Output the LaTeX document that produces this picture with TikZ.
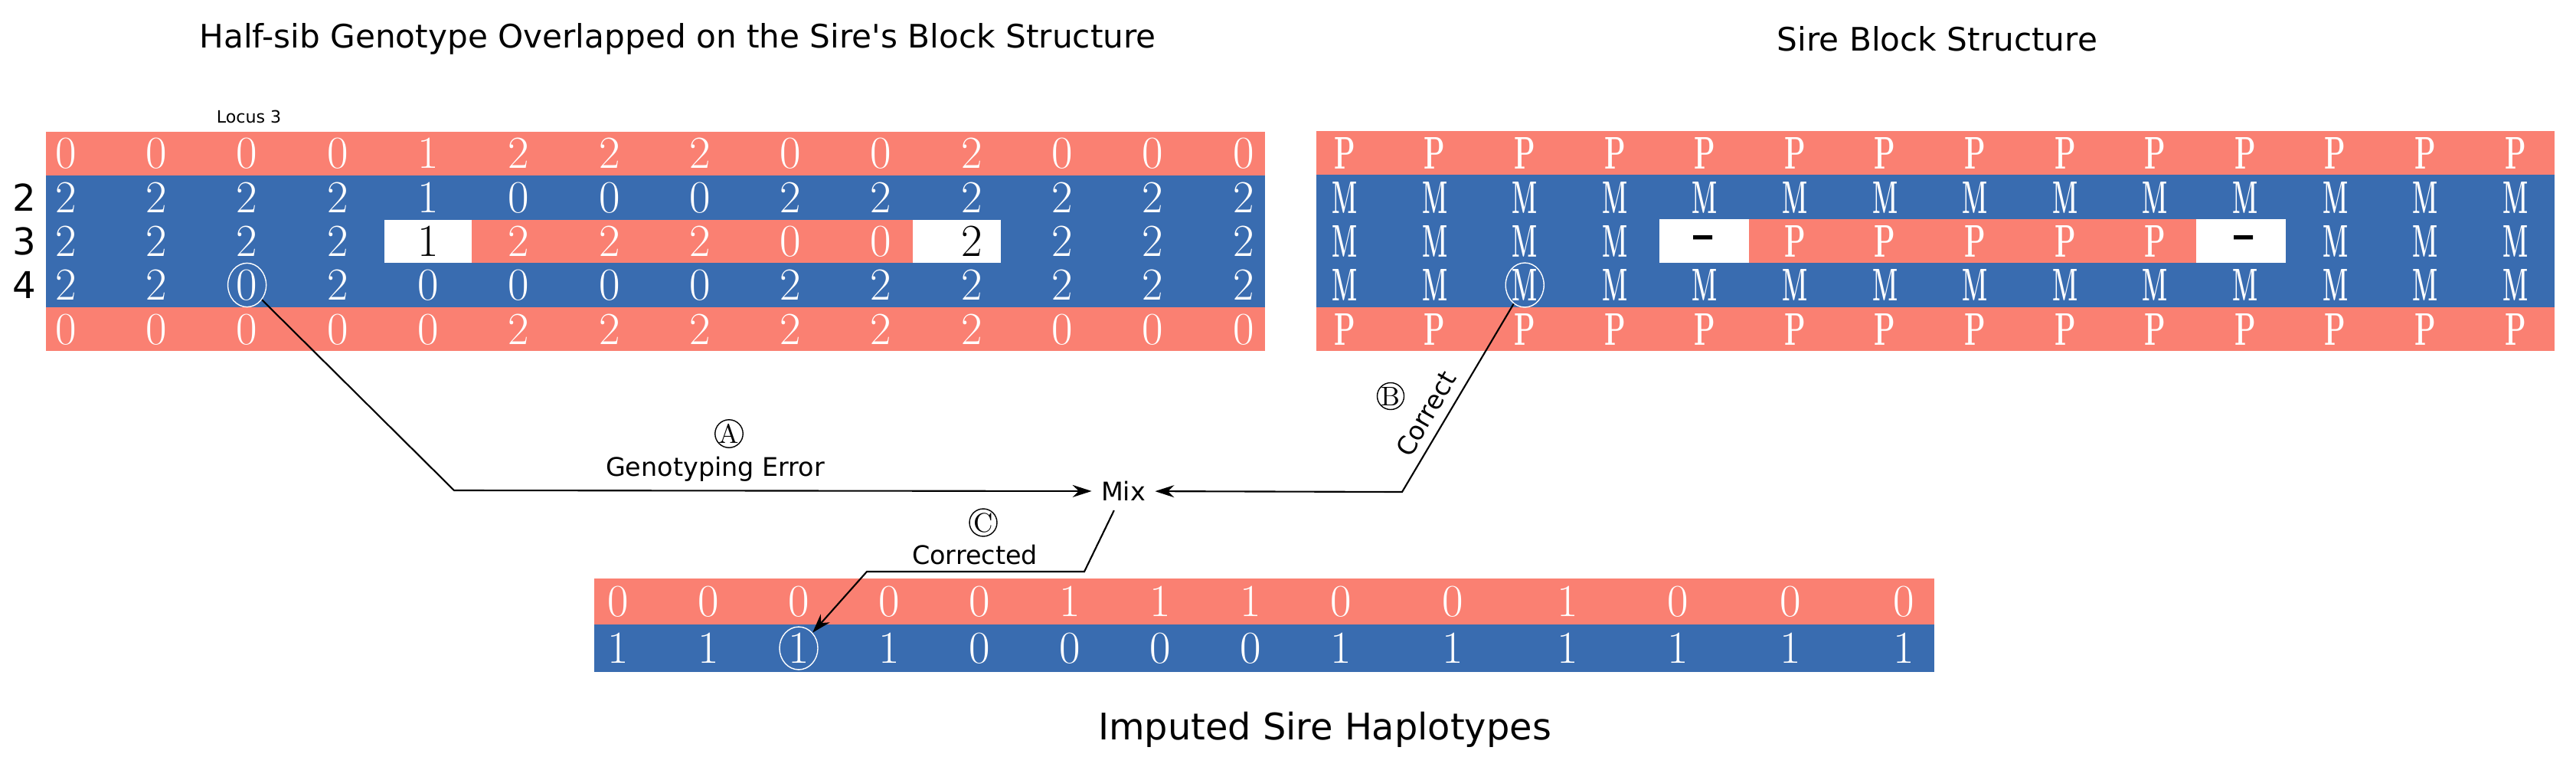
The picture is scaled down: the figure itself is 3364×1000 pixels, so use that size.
\documentclass[tikz,border=0pt]{standalone}
\usepackage{fontspec}
\setsansfont[Ligatures=TeXOff]{DejaVu Sans}
\usepackage{graphicx}
\usepackage{tikz}
\usetikzlibrary{arrows.meta,shapes.geometric}

\definecolor{patred}{RGB}{250,128,114}
\definecolor{matblue}{RGB}{57,108,176}

\newcommand{\Pchr}{\scalebox{0.6}[1]{\bfseries P}}
\newcommand{\Mchr}{\scalebox{0.52}[1]{\bfseries M}}
\newcommand{\Dchr}{\scalebox{1.4}[1]{\bfseries -}}

\tikzset{
  cell/.style={text=white, inner sep=0pt, font=\fontsize{17}{17}\selectfont},
  holecell/.style={cell, text=black},
  ringcell/.style={cell, draw=white, ellipse, minimum width=0.5cm, minimum height=0.55cm},
  heading/.style={anchor=base, font=\sffamily\fontsize{12}{14}\selectfont},
  lbl/.style={font=\sffamily\fontsize{9.5}{11}\selectfont},
  tag/.style={draw, circle, inner sep=0pt, minimum size=0.35cm, font=\fontsize{10}{10}\selectfont},
  flow/.style={line width=0.6pt},
  arrowed/.style={-{Stealth[length=2.5mm,width=1.6mm]}},
}

\begin{document}
\begin{tikzpicture}[x=0.01cm, y=-0.01cm]
  \useasboundingbox (0,0) rectangle (3364,1000);
  % Titles
  \node[heading] (gtitle) at (885,62) {Half-sib Genotype Overlapped on the Sire's Block Structure};
  \node[heading] (stitle) at (2530,67) {Sire Block Structure};
  \node[heading, font=\sffamily\fontsize{13.6}{15}\selectfont] (htitle) at (1730,965) {Imputed Sire Haplotypes};
  \node[anchor=base, font=\sffamily\fontsize{6.3}{7}\selectfont] (locus) at (325,160) {Locus 3};

  % Draw half-sib block
  \fill[patred] (60,172) rectangle (1652,458);
  \fill[matblue] (60,229) rectangle (1652,401);
  \fill[patred] (616,287) rectangle (1192,343);
  \fill[white] (502,287) rectangle (616,343);
  \fill[white] (1192,287) rectangle (1307,343);
  \foreach \v [count=\i from 0] in {0,0,0,0,1,2,2,2,0,0,2,0,0,0}
    \node[cell] (g1-\i) at ({86+118.3*\i},200) {\v};
  \foreach \v [count=\i from 0] in {2,2,2,2,1,0,0,0,2,2,2,2,2,2}
    \node[cell] (g2-\i) at ({86+118.3*\i},258) {\v};
  \foreach \v/\s [count=\i from 0] in {2/cell,2/cell,2/cell,2/cell,1/holecell,2/cell,2/cell,2/cell,0/cell,0/cell,2/holecell,2/cell,2/cell,2/cell}
    \node[\s] (g3-\i) at ({86+118.3*\i},315) {\v};
  \foreach \v/\s [count=\i from 0] in {2/cell,2/cell,0/ringcell,2/cell,0/cell,0/cell,0/cell,0/cell,2/cell,2/cell,2/cell,2/cell,2/cell,2/cell}
    \node[\s] (g4-\i) at ({86+118.3*\i},372) {\v};
  \foreach \v [count=\i from 0] in {0,0,0,0,0,2,2,2,2,2,2,0,0,0}
    \node[cell] (g5-\i) at ({86+118.3*\i},430) {\v};
  \foreach \r/\y in {2/258,3/315,4/372}
    \node[font=\sffamily\fontsize{13.7}{15}\selectfont] (row\r) at (32,\y) {\r};

  % Draw sire block
  \fill[patred] (1719,171) rectangle (3336,458);
  \fill[matblue] (1719,228) rectangle (3336,401);
  \fill[patred] (2284,286) rectangle (2868,343);
  \fill[white] (2167,286) rectangle (2284,343);
  \fill[white] (2868,286) rectangle (2985,343);
  \foreach \i in {0,...,13} {
    \node[cell] (s1-\i) at ({1756+117.6*\i},200) {\Pchr};
    \node[cell] (s2-\i) at ({1756+117.6*\i},258) {\Mchr};
    \node[cell] (s5-\i) at ({1756+117.6*\i},430) {\Pchr};
  }
  \foreach \v/\s [count=\i from 0] in {\Mchr/cell,\Mchr/cell,\Mchr/cell,\Mchr/cell,\Dchr/holecell,\Pchr/cell,\Pchr/cell,\Pchr/cell,\Pchr/cell,\Pchr/cell,\Dchr/holecell,\Mchr/cell,\Mchr/cell,\Mchr/cell}
    \node[\s] (s3-\i) at ({1756+117.6*\i},315) {\v};
  \foreach \s [count=\i from 0] in {cell,cell,ringcell,cell,cell,cell,cell,cell,cell,cell,cell,cell,cell,cell}
    \node[\s] (s4-\i) at ({1756+117.6*\i},372) {\Mchr};

  % Draw imputed haplotypes
  \fill[patred] (776,755) rectangle (2526,815);
  \fill[matblue] (776,815) rectangle (2526,877);
  \foreach \x/\v [count=\i from 0] in {807/0,925/0,1043/0,1161/0,1279/0,1397/1,1515/1,1633/1,1751/0,1897/0,2047/1,2191/0,2338/0,2486/0}
    \node[cell] (h1-\i) at (\x,785) {\v};
  \foreach \x/\v/\s [count=\i from 0] in {807/1/cell,925/1/cell,1043/1/ringcell,1161/1/cell,1279/0/cell,1397/0/cell,1515/0/cell,1633/0/cell,1751/1/cell,1897/1/cell,2047/1/cell,2191/1/cell,2338/1/cell,2486/1/cell}
    \node[\s] (h2-\i) at (\x,846) {\v};

  % Draw connectors
  \node[lbl] (mix) at (1467,641) {Mix};
  \coordinate (errbend) at (593,640);
  \coordinate (okbend) at (1831,642);
  \coordinate (fixbendA) at (1416,746);
  \coordinate (fixbendB) at (1132,746);
  \draw[flow, arrowed] (g4-2) -- (errbend) -- (mix);
  \draw[flow, arrowed] (s4-2) -- (okbend) -- (mix);
  \draw[flow, arrowed] (mix) -- (fixbendA) -- (fixbendB) -- (h2-2);
  \node[tag] (tagA) at (952,566) {A};
  \node[lbl, anchor=base] (errtext) at (934,621) {Genotyping Error};
  \node[tag] (tagB) at (1816,517) {B};
  \node[lbl, rotate=60] (oktext) at (1862,540) {Correct};
  \node[tag] (tagC) at (1284,682) {C};
  \node[lbl, anchor=base] (fixtext) at (1273,736) {Corrected};
\end{tikzpicture}
\end{document}
